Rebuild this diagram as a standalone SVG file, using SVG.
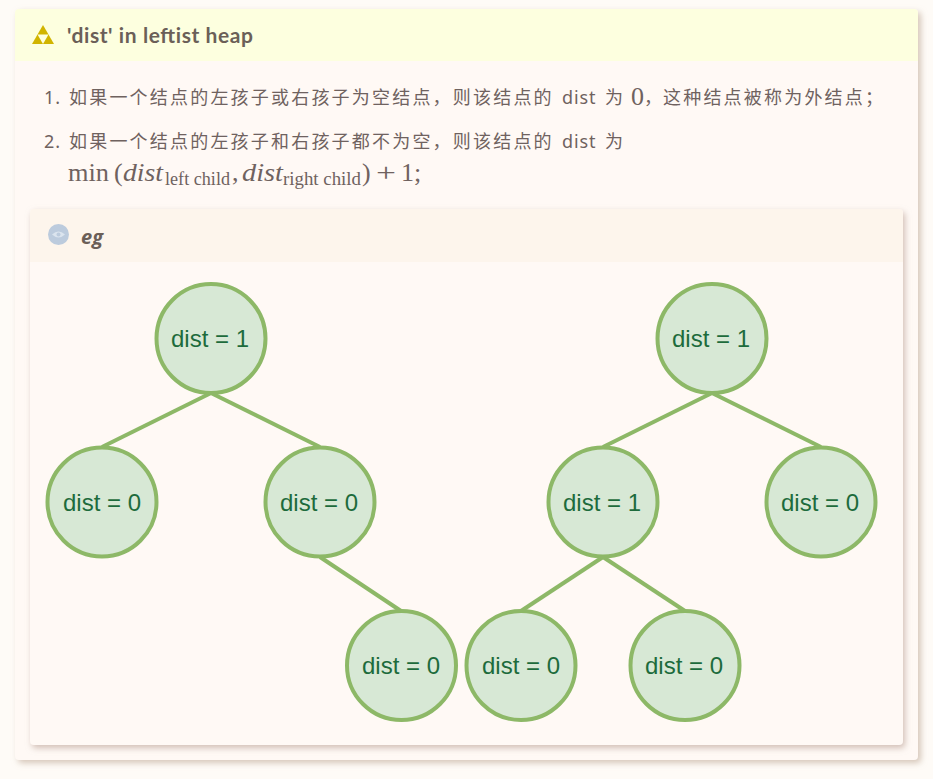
<svg xmlns="http://www.w3.org/2000/svg" width="933" height="779" viewBox="0 0 933 779">
<defs>
<filter id="sh" x="-5%" y="-5%" width="110%" height="110%"><feDropShadow dx="3" dy="3" stdDeviation="3" flood-color="#cfbdae" flood-opacity="0.85"/></filter>
<filter id="sh2" x="-5%" y="-5%" width="110%" height="110%"><feDropShadow dx="2" dy="3" stdDeviation="3" flood-color="#c9b4aa" flood-opacity="0.85"/></filter>
</defs>
<style>
.t{font-family:"Noto Sans CJK SC","Noto Sans",sans-serif;font-size:18px;letter-spacing:2.2px;fill:#6f625f}
.c{letter-spacing:0}
.l{font-family:"Noto Sans","Noto Sans CJK SC",sans-serif;font-size:18px;letter-spacing:.9px;fill:#6f625f}
.m{font-family:"Liberation Serif",serif;font-size:26px;fill:#6f625f}
.s{font-family:"Liberation Serif",serif;font-size:18px;fill:#6f625f}
.i{font-style:italic}
.n circle{fill:#d7e8d5;stroke:#8db867;stroke-width:4}
.n text{font-family:"Liberation Sans",Arial,sans-serif;font-size:24px;fill:#1d6b3c;text-anchor:middle}
#connectors line{stroke:#8db867;stroke-width:4}
</style>
<rect width="933" height="779" fill="#fefbf7"/>
<g id="outer-card">
<rect x="15" y="9" width="903" height="751" rx="4" fill="#fff9f5" filter="url(#sh)"/>
<path d="M15 61V13a4 4 0 0 1 4-4H914a4 4 0 0 1 4 4V61Z" fill="#fdffdf"/>
<path d="M43 25L32 44H54Z" fill="#d1b400"/><path d="M37.500 34.500H48.500L43 44Z" fill="#fdffdf"/>
<text x="67" y="43" textLength="186" style="font-family:'Lato','Noto Sans',sans-serif;font-size:21px;font-weight:700;fill:#6b5f58">'dist' in leftist heap</text>
<text class="l" x="44" y="104">1.</text>
<text class="t" x="69" y="104">如果一个结点的左孩子或右孩子为空结点，则该结点的</text>
<text class="l" x="562" y="104">dist</text>
<text class="t" x="605" y="104">为</text>
<text class="m" x="631" y="105">0</text>
<text class="t c" x="644" y="104">，</text>
<text class="t" x="663" y="104">这种结点被称为外结点；</text>
<text class="l" x="44" y="148">2.</text>
<text class="t" x="69" y="148">如果一个结点的左孩子和右孩子都不为空，则该结点的</text>
<text class="l" x="562" y="148">dist</text>
<text class="t" x="605" y="148">为</text>
<text class="m" x="68" y="181" textLength="41" lengthAdjust="spacingAndGlyphs">min</text>
<text class="m" x="114" y="181">(</text>
<text class="m i" x="123" y="181" textLength="40" lengthAdjust="spacingAndGlyphs">dist</text>
<text class="s" x="165" y="185" textLength="65" lengthAdjust="spacingAndGlyphs">left child</text>
<text class="m" x="232" y="181">,</text>
<text class="m i" x="242" y="181" textLength="41" lengthAdjust="spacingAndGlyphs">dist</text>
<text class="s" x="283" y="185" textLength="78" lengthAdjust="spacingAndGlyphs">right child</text>
<text class="m" x="362" y="181">)</text>
<text class="m" x="376" y="181" textLength="20" lengthAdjust="spacingAndGlyphs">+</text>
<text class="m" x="401" y="181">1</text>
<text class="m" x="414" y="181">;</text>
</g>
<g id="inner-card">
<rect x="30" y="209" width="873" height="536" rx="4" fill="#fff9f5" filter="url(#sh2)"/>
<path d="M30 262V213a4 4 0 0 1 4-4H899a4 4 0 0 1 4 4V262Z" fill="#fdf5ec"/>
<circle cx="58.500" cy="234.500" r="10.500" fill="#bccbdd"/>
<path d="M52 234.500Q58.500 228.500 65 234.500Q58.500 240.500 52 234.500Z" fill="#dbe4ee"/>
<circle cx="58.500" cy="234.500" r="2" fill="#bccbdd"/>
<text x="81" y="244" style="font-family:'Open Sans','Noto Sans',sans-serif;font-size:20px;font-weight:700;font-style:italic;fill:#6b5f58">eg</text>
</g>
<g id="connectors">
<line x1="211" y1="393" x2="102" y2="447"/>
<line x1="211" y1="393" x2="320" y2="447"/>
<line x1="320" y1="557" x2="401" y2="611"/>
<line x1="712" y1="393" x2="603" y2="447"/>
<line x1="712" y1="393" x2="821" y2="447"/>
<line x1="603" y1="557" x2="521" y2="611"/>
<line x1="603" y1="557" x2="685" y2="611"/>
</g>
<g id="n1" class="n"><circle cx="211" cy="338.500" r="54.500"/><text x="210" y="347">dist = 1</text></g>
<g id="n2" class="n"><circle cx="102" cy="502" r="54.500"/><text x="102" y="511">dist = 0</text></g>
<g id="n3" class="n"><circle cx="320" cy="502" r="54.500"/><text x="319" y="511">dist = 0</text></g>
<g id="n4" class="n"><circle cx="401.500" cy="665.500" r="54.500"/><text x="401" y="674">dist = 0</text></g>
<g id="n5" class="n"><circle cx="712" cy="338.500" r="54.500"/><text x="711" y="347">dist = 1</text></g>
<g id="n6" class="n"><circle cx="603" cy="502" r="54.500"/><text x="602" y="511">dist = 1</text></g>
<g id="n7" class="n"><circle cx="821" cy="502" r="54.500"/><text x="820" y="511">dist = 0</text></g>
<g id="n8" class="n"><circle cx="521" cy="665.500" r="54.500"/><text x="521" y="674">dist = 0</text></g>
<g id="n9" class="n"><circle cx="685" cy="665.500" r="54.500"/><text x="684" y="674">dist = 0</text></g>
</svg>
